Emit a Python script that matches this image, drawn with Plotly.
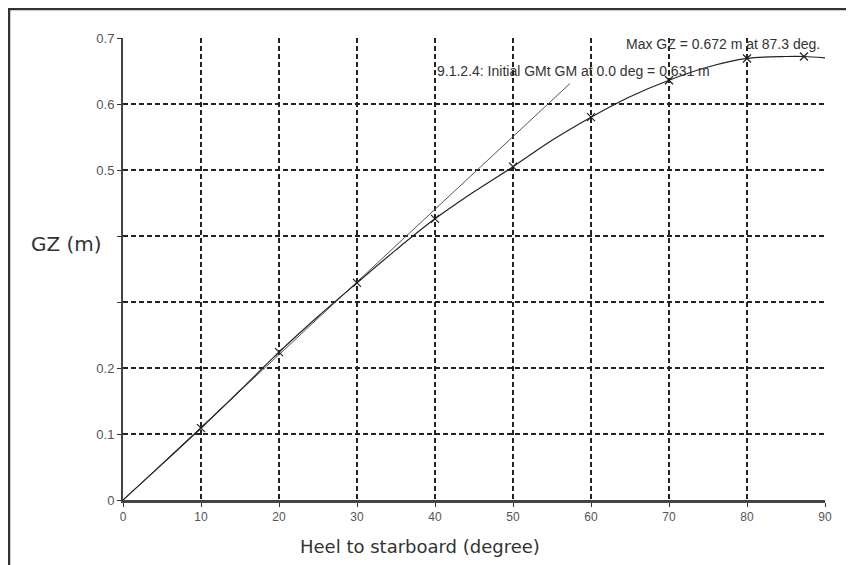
import plotly.graph_objects as go

# GZ curve
heel = [0, 5, 10, 15, 20, 25, 30, 35, 40, 45, 50, 55, 60, 65, 70, 75, 80, 85, 87.3, 90]
gz = [0, 0.054, 0.109, 0.166, 0.224, 0.278, 0.329, 0.379, 0.426, 0.467, 0.505, 0.545, 0.580, 0.611, 0.636, 0.656, 0.669, 0.672, 0.672, 0.670]
mark_heel = [10, 20, 30, 40, 50, 60, 70, 80, 87.3]
mark_gz = [0.109, 0.224, 0.329, 0.426, 0.505, 0.580, 0.636, 0.669, 0.672]

# Initial GM line
gm_heel = [0, 57.3]
gm_gz = [0, 0.631]

x_ticks = [0, 10, 20, 30, 40, 50, 60, 70, 80, 90]
y_ticks = [0, 0.1, 0.2, 0.3, 0.4, 0.5, 0.6, 0.7]
y_ticktext = ["0", "0.1", "0.2", "", "", "0.5", "0.6", "0.7"]

# layout geometry (figure pixels; page adds ~8px body margin)
W, H = 846, 557
L, T, PW, PH = 115, 30, 702, 462
OFF = 8


def px(page_x):
    return (page_x - OFF - L) / PW


def py(page_y):
    return (T + PH - (page_y - OFF)) / PH


fig = go.Figure()
fig.add_trace(go.Scatter(x=gm_heel, y=gm_gz, mode="lines",
                         line=dict(color="#555555", width=1), hoverinfo="skip"))
fig.add_trace(go.Scatter(x=heel, y=gz, mode="lines",
                         line=dict(color="#222222", width=1.2, shape="spline"), hoverinfo="skip"))
fig.add_trace(go.Scatter(x=mark_heel, y=mark_gz, mode="markers",
                         marker=dict(symbol="x-thin", size=8, line=dict(color="#222222", width=1.2)),
                         hoverinfo="skip"))

fig.add_annotation(x=89.6, y=0.691, text="Max GZ = 0.672 m at 87.3 deg.", showarrow=False,
                   xanchor="right", yanchor="middle",
                   font=dict(family="Liberation Sans", size=14, color="#333333"))
fig.add_annotation(x=40.0, y=0.65, text="9.1.2.4: Initial GMt GM at 0.0 deg = 0.631 m", showarrow=False,
                   xanchor="left", yanchor="middle",
                   font=dict(family="Liberation Sans", size=14, color="#333333"))

# outer frame: only left and top edges are visible in the picture
fig.add_shape(type="line", xref="paper", yref="paper",
              x0=px(9), x1=px(9), y0=py(620), y1=py(8),
              line=dict(color="#333333", width=2.5), layer="below")
fig.add_shape(type="line", xref="paper", yref="paper",
              x0=px(8), x1=px(900), y0=py(9), y1=py(9),
              line=dict(color="#333333", width=2.5), layer="below")

fig.add_annotation(xref="paper", yref="paper", x=px(66), y=py(244),
                   text="GZ (m)", showarrow=False, xanchor="center", yanchor="middle",
                   font=dict(family="DejaVu Sans", size=20, color="#333333"))
fig.add_annotation(xref="paper", yref="paper", x=px(420), y=py(546),
                   text="Heel to starboard (degree)", showarrow=False, xanchor="center", yanchor="middle",
                   font=dict(family="DejaVu Sans", size=18, color="#333333"))

fig.update_layout(
    width=W, height=H,
    margin=dict(l=L, r=W - L - PW, t=T, b=H - T - PH, autoexpand=False),
    plot_bgcolor="white", paper_bgcolor="white",
    showlegend=False,
    font=dict(family="Liberation Sans", color="#444444"),
    xaxis=dict(range=[0, 90], tickvals=x_ticks, ticktext=[str(v) for v in x_ticks],
               showgrid=True, gridcolor="#222222", griddash="5px,3px", gridwidth=1.5,
               showline=True, linecolor="#444444", linewidth=2.5,
               ticks="outside", ticklen=4, tickcolor="#333333",
               tickfont=dict(size=12, color="#555555"), zeroline=False, automargin=False),
    yaxis=dict(range=[0, 0.7], tickvals=y_ticks, ticktext=y_ticktext,
               showgrid=True, gridcolor="#222222", griddash="5px,3px", gridwidth=1.5,
               showline=True, linecolor="#444444", linewidth=2,
               ticks="outside", ticklen=4, tickcolor="#333333",
               tickfont=dict(size=13, color="#555555"), zeroline=False, automargin=False),
)

fig.write_html("out.html")
